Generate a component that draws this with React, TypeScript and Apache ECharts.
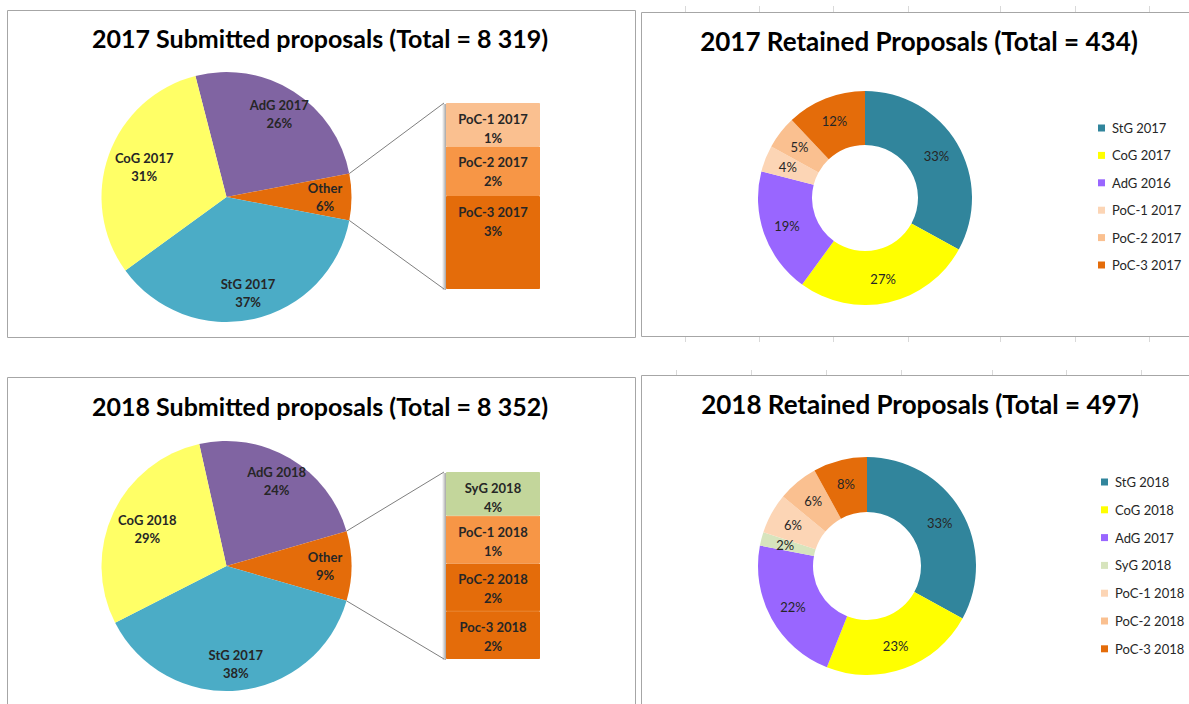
import React, { useEffect, useRef } from "react";
import * as echarts from "echarts";

// ---------- DATA ----------
const sub2017Names = ["AdG 2017", "Other", "StG 2017", "CoG 2017"];
const sub2017Pct = [26, 6, 37, 31];
const sub2017OtherNames = ["PoC-1 2017", "PoC-2 2017", "PoC-3 2017"];
const sub2017OtherPct = [1, 2, 3];
const sub2017OtherShare = [1.4, 1.6, 3.0];

const sub2018Names = ["AdG 2018", "Other", "StG 2017", "CoG 2018"];
const sub2018Pct = [24, 9, 38, 29];
const sub2018OtherNames = ["SyG 2018", "PoC-1 2018", "PoC-2 2018", "Poc-3 2018"];
const sub2018OtherPct = [4, 1, 2, 2];
const sub2018OtherShare = [2.1, 2.3, 2.3, 2.3];

const ret2017Names = ["StG 2017", "CoG 2017", "AdG 2016", "PoC-1 2017", "PoC-2 2017", "PoC-3 2017"];
const ret2017Pct = [33, 27, 19, 4, 5, 12];
const ret2018Names = ["StG 2018", "CoG 2018", "AdG 2017", "SyG 2018", "PoC-1 2018", "PoC-2 2018", "PoC-3 2018"];
const ret2018Pct = [33, 23, 22, 2, 6, 6, 8];

const titles = [
  "2017 Submitted proposals (Total = 8 319)",
  "2017 Retained Proposals (Total = 434)",
  "2018 Submitted proposals (Total = 8 352)",
  "2018 Retained Proposals (Total = 497)",
];

// ---------- STYLES ----------
const FONT = "Lato, 'Open Sans', sans-serif";
const TXT = "#262626";
const subColors = ["#8064A2", "#E46C0A", "#4BACC6", "#FFFF66"];
const sub2017OtherColors = ["#FAC090", "#F79646", "#E46C0A"];
const sub2018OtherColors = ["#C3D69B", "#F79646", "#E46C0A", "#E46C0A"];
const ret2017Colors = ["#31859C", "#FFFF00", "#9966FF", "#FCD5B5", "#FAC090", "#E46C0A"];
const ret2018Colors = ["#31859C", "#FFFF00", "#9966FF", "#D7E4BD", "#FCD5B5", "#FAC090", "#E46C0A"];

const sum = (a: number[]) => a.reduce((s, v) => s + v, 0);

const PIE_R = 125;
const pies = [
  { names: sub2017Names, pct: sub2017Pct, center: [226.5, 197] },
  { names: sub2018Names, pct: sub2018Pct, center: [226.5, 566] },
];
const bars = [
  { names: sub2017OtherNames, pct: sub2017OtherPct, share: sub2017OtherShare, colors: sub2017OtherColors, left: 446, top: 103, height: 186 },
  { names: sub2018OtherNames, pct: sub2018OtherPct, share: sub2018OtherShare, colors: sub2018OtherColors, left: 446, top: 472, height: 187 },
];
const BAR_W = 94;

function buildOption() {
  const series: any[] = [];

  // donuts first (legend colors come from them)
  const donuts = [
    { names: ret2017Names, pct: ret2017Pct, colors: ret2017Colors, center: [865, 198], radius: [53, 107] },
    { names: ret2018Names, pct: ret2018Pct, colors: ret2018Colors, center: [867, 566], radius: [54, 109] },
  ];
  donuts.forEach((d) => {
    series.push({
      type: "pie",
      center: d.center,
      radius: d.radius,
      startAngle: 90,
      clockwise: true,
      avoidLabelOverlap: false,
      silent: true,
      emphasis: { disabled: true },
      data: d.names.map((n, i) => ({ name: n, value: d.pct[i], itemStyle: { color: d.colors[i] } })),
      label: { show: true, position: "inside", formatter: "{c}%", fontFamily: FONT, fontSize: 13, color: TXT },
      labelLine: { show: false },
    });
  });

  pies.forEach((p) => {
    const start = 3.6 * p.pct[0] + 1.8 * p.pct[1];
    // mid angle (math convention, degrees) of the last slice (CoG), whose label sits further in
    const lastMid = start - 3.6 * (sum(p.pct) - p.pct[p.pct.length - 1] / 2);
    const inward = 11;
    const rad = (lastMid * Math.PI) / 180;
    const ldx = -inward * Math.cos(rad);
    const ldy = inward * Math.sin(rad);
    series.push({
      type: "pie",
      center: p.center,
      radius: PIE_R,
      startAngle: start,
      clockwise: true,
      silent: true,
      emphasis: { disabled: true },
      data: p.names.map((n, i) => ({ name: n, value: p.pct[i], itemStyle: { color: subColors[i] } })),
      label: { show: false },
      labelLine: { show: false },
    });
    // label carrier ring (transparent) to place labels at ~3/4 radius
    series.push({
      type: "pie",
      center: p.center,
      radius: [66, PIE_R],
      startAngle: start,
      clockwise: true,
      silent: true,
      avoidLabelOverlap: false,
      emphasis: { disabled: true },
      itemStyle: { color: "rgba(0,0,0,0)" },
      data: p.names.map((n, i) => ({ name: n, value: p.pct[i] })),
      label: {
        show: true,
        position: "inside",
        formatter: "{b}\n{c}%",
        fontFamily: FONT,
        fontWeight: "bold",
        fontSize: 13,
        lineHeight: 18,
        color: TXT,
      },
      labelLayout: (params: any) =>
        params.dataIndex === p.pct.length - 1 ? { dx: ldx, dy: ldy } : {},
      labelLine: { show: false },
    });
  });

  const grids: any[] = [];
  const xAxes: any[] = [];
  const yAxes: any[] = [];
  bars.forEach((b, g) => {
    grids.push({ left: b.left, top: b.top, width: BAR_W, height: b.height, containLabel: false });
    xAxes.push({ type: "category", gridIndex: g, data: ["Other"], show: false });
    yAxes.push({ type: "value", gridIndex: g, min: 0, max: sum(b.share), show: false });
    for (let i = b.names.length - 1; i >= 0; i--) {
      series.push({
        type: "bar",
        name: `stack${g}-${i}`,
        stack: `s${g}`,
        xAxisIndex: g,
        yAxisIndex: g,
        barWidth: "100%",
        silent: true,
        emphasis: { disabled: true },
        data: [b.share[i]],
        itemStyle: { color: b.colors[i], borderColor: b.colors[i], borderWidth: 1 },
        label: {
          show: true,
          position: "insideTop",
          distance: 6.5,
          formatter: `${b.names[i]}\n${b.pct[i]}%`,
          fontFamily: FONT,
          fontWeight: "bold",
          fontSize: 13,
          lineHeight: 19,
          color: TXT,
        },
      });
    }
  });

  // graphics: panel frames, sheet gridline ticks, connectors, bar shadow
  const graphic: any[] = [];
  const frame = (x: number, y: number, w: number, h: number) => ({
    type: "rect",
    shape: { x, y, width: w, height: h },
    style: { fill: "none", stroke: "#A6A6A6", lineWidth: 1 },
    silent: true,
  });
  graphic.push(frame(7.5, 10.5, 628, 327));
  graphic.push(frame(641.5, 12.5, 600, 324));
  graphic.push(frame(7.5, 377.5, 628, 400));
  graphic.push(frame(641.5, 375.5, 600, 400));
  const tick = (x: number, y1: number, y2: number) => ({
    type: "line",
    shape: { x1: x + 0.5, y1, x2: x + 0.5, y2 },
    style: { stroke: "#D9D9D9", lineWidth: 1 },
    silent: true,
  });
  [685, 759, 833, 908, 1000, 1075, 1149].forEach((x) => {
    graphic.push(tick(x, 6, 12));
    graphic.push(tick(x, 337, 342));
  });
  [676, 751, 826, 901, 992, 1066, 1141].forEach((x) => graphic.push(tick(x, 370, 375)));

  pies.forEach((p, k) => {
    const half = (1.8 * p.pct[1] * Math.PI) / 180;
    const [cx, cy] = p.center;
    const b = bars[k];
    const sx = cx + PIE_R * Math.cos(half);
    graphic.push({
      type: "line",
      shape: { x1: sx, y1: cy - PIE_R * Math.sin(half), x2: b.left - 2, y2: b.top },
      style: { stroke: "#7F7F7F", lineWidth: 1 },
      silent: true,
    });
    graphic.push({
      type: "line",
      shape: { x1: sx, y1: cy + PIE_R * Math.sin(half), x2: b.left - 2, y2: b.top + b.height },
      style: { stroke: "#7F7F7F", lineWidth: 1 },
      silent: true,
    });
    graphic.push({
      type: "rect",
      shape: { x: b.left - 4, y: b.top + 1, width: 4, height: b.height },
      style: {
        fill: new echarts.graphic.LinearGradient(0, 0, 1, 0, [
          { offset: 0, color: "rgba(0,0,0,0)" },
          { offset: 1, color: "rgba(0,0,0,0.35)" },
        ]),
      },
      silent: true,
      z: -1,
    });
  });

  const titleOpt = [
    { text: titles[0], left: 320, top: 24, size: 25 },
    { text: titles[1], left: 919, top: 27, size: 26 },
    { text: titles[2], left: 320, top: 392, size: 25 },
    { text: titles[3], left: 920, top: 390, size: 26 },
  ].map((t) => ({
    text: t.text,
    left: t.left,
    top: t.top,
    textAlign: "center",
    padding: 0,
    textStyle: { fontFamily: FONT, fontWeight: "bold", fontSize: t.size, lineHeight: 28, color: "#000" },
  }));

  const legendBase = {
    orient: "vertical",
    icon: "rect",
    itemWidth: 7,
    itemHeight: 7,
    padding: 0,
    selectedMode: false,
    textStyle: { fontFamily: FONT, fontSize: 13, lineHeight: 14, color: TXT, padding: [0, 0, 0, 2] },
  };

  return {
    animation: false,
    backgroundColor: "#fff",
    title: titleOpt,
    legend: [
      { ...legendBase, data: ret2017Names, left: 1098, top: 121, itemGap: 13.4 },
      { ...legendBase, data: ret2018Names, left: 1101, top: 475, itemGap: 13.8 },
    ],
    grid: grids,
    xAxis: xAxes,
    yAxis: yAxes,
    series,
    graphic: { elements: graphic },
  };
}

export default function App() {
  const ref = useRef<HTMLDivElement>(null);
  useEffect(() => {
    if (!ref.current) return;
    const chart = echarts.init(ref.current, undefined, { renderer: "svg" });
    chart.setOption(buildOption() as any);
    return () => chart.dispose();
  }, []);
  return (
    <div
      ref={ref}
      style={{ position: "fixed", left: 0, top: 0, width: 1189, height: 704, background: "#fff" }}
    />
  );
}
